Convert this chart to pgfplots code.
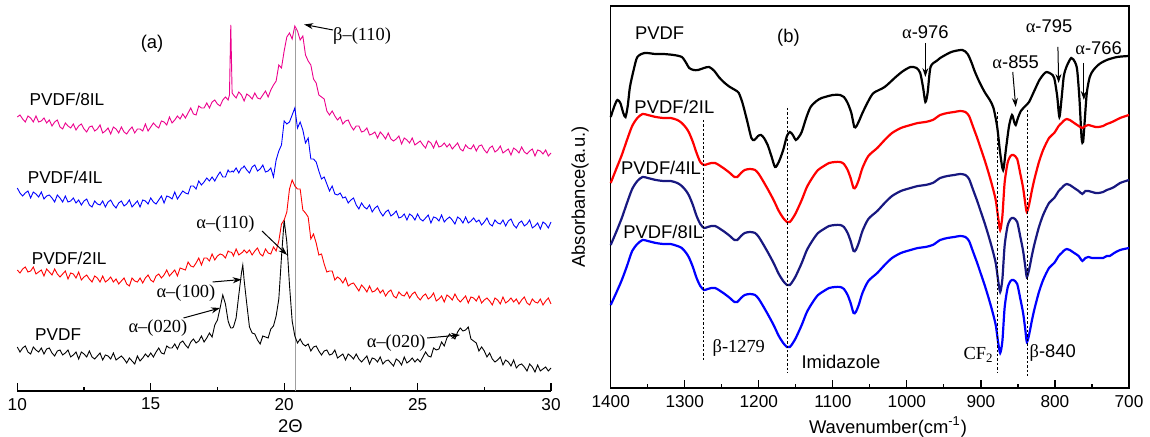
\documentclass[border=0pt]{standalone}
\usepackage{fontspec}
\setmainfont{Liberation Sans}
\newfontfamily\tms{Liberation Serif}
\usepackage{pgfplots}
\usepackage{pgfplotstable}
\pgfplotsset{compat=1.18}
\usetikzlibrary{arrows.meta}

\definecolor{navyb}{RGB}{24,24,128}
\newcommand\fl{\fontsize{8.6}{10}\selectfont}
\newcommand\fn{\fontsize{9.2}{11}\selectfont}

% XRD: 2theta, PVDF, /2IL, /4IL, /8IL (offset intensities, a.u.)
\pgfplotstableread{
x p r b m
10.0 44 121 203 274
10.1 39 118 198 276
10.2 43 122 195 272
10.3 45 124 198 269
10.4 39 119 200 275
10.5 37 120 193 273
10.6 44 124 199 269
10.7 41 117 197 275
10.8 39 119 194 269
10.9 43 121 199 270
11.0 37 115 192 273
11.1 42 122 195 268
11.2 43 119 196 271
11.3 38 116 193 265
11.4 35 122 189 269
11.5 40 117 196 271
11.6 41 114 193 264
11.7 36 117 189 262
11.8 38 120 195 268
11.9 41 112 189 265
12.0 34 118 190 263
12.1 36 117 193 267
12.2 39 113 188 261
12.3 32 119 191 265
12.4 39 111 186 267
12.5 37 114 190 262
12.6 34 116 192 259
12.7 40 112 186 264
12.8 34 109 184 265
12.9 32 115 190 260
13.0 35 113 187 262
13.1 38 109 186 266
13.2 31 115 190 258
13.3 36 109 184 260
13.4 35 111 189 263
13.5 32 114 191 257
13.6 38 109 186 264
13.7 31 112 183 262
13.8 33 107 188 258
13.9 35 110 190 264
14.0 32 113 185 259
14.1 28 107 187 257
14.2 33 105 191 261
14.3 30 113 184 264
14.4 27 110 187 258
14.5 35 109 190 262
14.6 30 113 184 262
14.7 33 108 191 260
14.8 37 113 190 267
14.9 34 116 187 260
15.0 38 111 193 264
15.1 34 109 189 268
15.2 39 115 187 265
15.3 43 117 191 263
15.4 38 113 195 270
15.5 37 116 188 269
15.6 45 121 195 266
15.7 43 115 194 274
15.8 43 118 192 268
15.9 47 121 199 271
16.0 42 115 192 275
16.1 48 123 196 272
16.2 50 122 200 277
16.3 46 121 198 273
16.4 43 129 197 278
16.5 49 125 205 283
16.6 52 124 205 277
16.7 48 128 202 276
16.8 50 133 210 285
16.9 55 126 206 283
17.0 49 133 209 283
17.1 53 133 213 288
17.2 58 130 210 283
17.3 54 137 214 289
17.4 66 131 210 291
17.5 71 135 215 287
17.6 83 137 219 285
17.7 96 136 214 291
17.8 87 133 214 294
17.9 70 140 221 291
17.95 66 139 219 296
18.0 63 139 219 366
18.05 63 138 220 298
18.1 64 135 219 296
18.2 73 142 223 293
18.3 96 136 218 299
18.4 118 138 223 296
18.45 126 139 223 293
18.5 111 141 225 290
18.6 87 138 221 297
18.7 64 141 218 295
18.8 58 136 224 292
18.9 57 140 226 298
19.0 51 143 220 293
19.1 47 137 222 292
19.2 55 135 226 296
19.3 54 142 219 300
19.4 53 138 220 294
19.5 62 137 223 301
19.6 65 144 214 306
19.7 75 140 231 310
19.8 92 150 240 326
19.9 134 167 246 323
20.0 171 171 270 340
20.1 149 179 267 354
20.2 106 202 269 358
20.3 70 211 276 352
20.4 55 205 283 365
20.5 48 202 263 360
20.6 52 202 269 351
20.7 47 181 261 355
20.8 45 178 248 336
20.9 47 174 253 330
21.0 40 152 232 326
21.1 44 157 232 312
21.2 45 148 229 308
21.3 40 136 220 296
21.4 36 137 212 294
21.5 40 127 214 292
21.6 41 119 207 280
21.7 36 120 200 276
21.8 37 120 205 280
21.9 41 111 197 275
22.0 33 114 196 271
22.1 35 112 198 274
22.2 37 108 193 267
22.3 31 113 194 270
22.4 37 105 188 271
22.5 35 107 191 265
22.6 32 108 193 261
22.7 37 104 186 265
22.8 32 100 182 265
22.9 29 106 188 259
23.0 32 103 184 260
23.1 35 99 182 263
23.2 27 105 186 256
23.3 33 99 179 257
23.4 32 100 183 259
23.5 29 103 185 253
23.6 34 98 179 259
23.7 27 101 175 256
23.8 30 95 179 252
23.9 31 99 181 258
24.0 28 101 175 252
24.1 25 95 177 250
24.2 32 93 180 252
24.3 30 99 173 255
24.4 26 96 174 247
24.5 34 95 177 253
24.6 28 99 171 251
24.7 30 93 177 248
24.8 33 97 175 253
24.9 29 99 171 246
25.0 32 94 177 248
25.1 29 91 172 250
25.2 34 95 170 246
25.3 39 97 173 243
25.4 35 92 176 250
25.5 34 94 168 248
25.6 43 98 174 243
25.7 41 90 173 250
25.8 42 92 170 244
25.9 49 95 176 245
26.0 45 89 169 248
26.1 53 96 172 244
26.2 57 94 174 247
26.3 54 91 171 242
26.4 52 97 167 245
26.5 59 92 174 248
26.6 63 89 172 242
26.7 60 92 168 240
26.8 61 95 174 246
26.9 64 88 168 243
27.0 52 94 170 242
27.1 50 93 173 246
27.2 48 90 169 240
27.3 40 95 171 245
27.4 44 88 166 246
27.5 40 91 169 241
27.6 34 93 173 238
27.7 38 90 167 243
27.8 32 86 165 245
27.9 29 93 171 239
28.0 31 91 168 241
28.1 34 87 167 245
28.2 26 94 171 238
28.3 31 88 165 240
28.4 29 90 170 242
28.5 25 93 172 236
28.6 31 89 166 243
28.7 23 92 163 241
28.8 26 87 168 238
28.9 27 91 170 244
29.0 24 94 165 239
29.1 20 88 167 237
29.2 27 86 171 240
29.3 24 92 163 242
29.4 19 89 165 235
29.5 26 88 168 241
29.6 20 92 162 240
29.7 22 86 169 237
29.8 24 90 167 241
29.9 20 93 163 235
30.0 23 87 169 238
}\xrd

% FTIR of neat PVDF
\pgfplotstableread{
w h
1400 271
1395 282
1391 288
1387 285
1383 275
1380 271
1377 282
1374 301
1369 318
1364 331
1354 335
1340 334
1329 334
1315 333
1304 331
1298 325
1294 320
1288 318
1282 318
1274 320
1267 321
1260 317
1254 311
1246 305
1239 301
1232 298
1227 295
1222 285
1216 268
1210 250
1206 248
1201 252
1197 253
1193 250
1188 243
1183 232
1178 221
1173 226
1167 238
1162 252
1158 256
1154 253
1150 248
1146 251
1142 256
1136 270
1130 281
1122 287
1115 290
1100 293
1090 293
1085 291
1080 285
1075 275
1071 261
1068 262
1064 268
1060 275
1052 287
1045 295
1030 301
1015 311
1005 317
995 321
987 320
982 315
978 300
975 286
972 295
968 321
960 327
955 330
940 336
925 338
918 334
913 326
908 316
902 306
895 296
888 288
883 280
878 261
874 235
870 218
866 240
862 262
858 273
855 266
853 263
850 270
846 277
840 282
835 286
828 297
821 308
815 314
811 316
805 314
801 310
797 292
794 271
791 290
788 312
784 322
778 330
773 326
770 318
767 290
764 250
762 246
760 265
757 295
753 311
748 318
740 324
730 328
716 331
700 332
}\irpvdf

% FTIR of PVDF/2IL, /4IL, /8IL
\pgfplotstableread{
w r n b
1400 205 143 83
1392 220 157 96
1385 233 170 108
1378 248 185 122
1371 262 199 137
1364 270 207 144
1357 274 211 148
1350 273 210 147
1339 271 208 145
1329 270 207 144
1319 270 207 144
1310 268 205 142
1304 265 202 140
1298 260 197 135
1294 255 192 130
1289 246 183 121
1284 235 172 110
1279 226 164 102
1274 223 160 98
1269 224 161 99
1264 225 162 100
1259 225 162 100
1254 223 160 98
1246 219 156 94
1239 215 152 90
1233 211 148 86
1229 211 148 86
1224 215 152 90
1219 218 155 93
1212 219 156 94
1205 218 155 93
1200 214 151 89
1195 208 145 83
1188 199 136 74
1180 188 125 63
1173 177 114 52
1167 170 107 45
1162 166 103 41
1158 166 103 41
1154 170 107 45
1150 175 112 50
1142 188 125 63
1135 201 138 76
1127 211 148 86
1120 218 155 93
1112 222 159 97
1105 225 162 100
1097 226 163 101
1090 226 163 101
1085 224 161 99
1080 218 155 93
1076 210 147 85
1072 200 137 75
1069 201 138 76
1065 208 145 83
1060 220 157 95
1052 232 169 107
1040 240 177 115
1030 248 185 123
1020 255 192 130
1008 260 197 135
995 263 200 138
985 265 202 140
975 266 203 141
965 268 205 143
955 273 210 148
945 275 212 150
936 276 213 151
928 277 214 152
921 276 213 151
916 272 209 147
911 262 199 137
905 250 187 125
900 239 176 114
895 228 165 103
890 216 153 91
885 203 140 78
880 188 125 63
877 172 109 47
874 158 96 35
871 172 109 47
868 205 142 80
864 225 162 100
860 232 169 107
856 233 170 108
851 229 166 104
847 215 152 90
843 200 137 75
840 184 121 58
838 176 111 46
835 183 118 53
831 198 133 68
828 208 143 78
822 225 160 95
816 238 173 108
808 250 185 120
801 255 190 125
795 262 197 132
791 265 200 135
787 268 203 138
784 269 204 139
780 268 203 138
774 265 200 135
768 262 197 132
763 260 194 127
759 262 197 130
755 263 197 131
750 262 196 130
745 261 195 130
741 261 195 130
735 262 196 130
730 264 198 132
726 265 199 132
720 267 201 135
712 270 205 138
700 273 208 140
}\irmix

\pgfplotsset{
  /pgf/number format/assume math mode=true,
  /pgf/number format/1000 sep={},
  every tick label/.append style={font=\fl},
}
\tikzset{annot/.style={-{Stealth[length=4.5pt,width=3pt]},line width=0.5pt}}

\begin{document}
\begin{tikzpicture}
\useasboundingbox (0pt,0pt) rectangle (575pt,218.5pt);

% ---------- (a) XRD ----------
\begin{axis}[at={(8.65pt,23pt)},anchor=south west,scale only axis,
  width=266.85pt,height=195.5pt,
  xmin=10,xmax=30,ymin=0,ymax=391,
  axis x line*=bottom,axis y line=none,ytick=\empty,
  xtick={10,15,20,25,30},minor xtick={12.5,17.5,22.5,27.5},
  tick align=inside,major tick length=4pt,minor tick length=2pt,
  tick style={black,line width=0.6pt},
  axis line style={line width=0.8pt},
  scaled x ticks=false,clip=false,
  every axis plot/.append style={line width=0.45pt}]
\addplot[gray!75,line width=0.6pt] coordinates {(20.43,0) (20.43,362)};
\addplot[black] table[x=x,y=p]{\xrd};
\addplot[red] table[x=x,y=r]{\xrd};
\addplot[blue] table[x=x,y=b]{\xrd};
\addplot[magenta] table[x=x,y=m]{\xrd};

\node[font=\fl] at (axis cs:11.86,292) {PVDF/8IL};
\node[font=\fl] at (axis cs:11.79,214) {PVDF/4IL};
\node[font=\fl] at (axis cs:11.94,133) {PVDF/2IL};
\node[font=\fl] at (axis cs:11.53,56) {PVDF};
\node[font=\fn] at (axis cs:15.05,347) {(a)};

\node[font=\fn\tms] at (axis cs:22.92,355) {β–(110)};
\draw[annot] (axis cs:21.83,361) -- (axis cs:20.75,366.5);
\node[font=\fn\tms] at (axis cs:17.8,167) {α–(110)};
\draw[annot] (axis cs:19.17,160) -- (axis cs:20.11,136);
\node[font=\fn\tms] at (axis cs:16.32,98) {α–(100)};
\draw[annot] (axis cs:17.32,109) -- (axis cs:18.41,111.5);
\node[font=\fn\tms] at (axis cs:15.27,63) {α–(020)};
\draw[annot] (axis cs:16.23,73) -- (axis cs:17.6,83);
\node[font=\fn\tms] at (axis cs:24.2,48) {α–(020)};
\draw[annot] (axis cs:25.36,53) -- (axis cs:26.59,56);
\end{axis}
\node[font=\fn] at (145.25pt,5.5pt) {2Θ};

% ---------- (b) FTIR ----------
\begin{axis}[at={(305.35pt,24.5pt)},anchor=south west,scale only axis,
  width=259.15pt,height=191pt,
  xmin=700,xmax=1400,x dir=reverse,ymin=0,ymax=382,
  xtick={700,800,...,1400},minor xtick={750,850,...,1350},
  xtick pos=left,ytick=\empty,
  tick align=inside,major tick length=4pt,minor tick length=2pt,
  tick style={black,line width=0.6pt},
  axis line style={line width=0.75pt},
  scaled x ticks=false,clip=false,
  every axis plot/.append style={line width=1.1pt,smooth,tension=0.45}]
\addplot[black] table[x=w,y=h]{\irpvdf};
\addplot[red] table[x=w,y=r]{\irmix};
\addplot[navyb] table[x=w,y=n]{\irmix};
\addplot[blue] table[x=w,y=b]{\irmix};

\addplot[black,line width=0.5pt,dash pattern=on 1.2pt off 1pt,sharp plot] coordinates {(1275,268) (1275,28)};
\addplot[black,line width=0.5pt,dash pattern=on 1.2pt off 1pt,sharp plot] coordinates {(1161,280) (1161,15)};
\addplot[black,line width=0.5pt,dash pattern=on 1.2pt off 1pt,sharp plot] coordinates {(877,276) (877,15)};
\addplot[black,line width=0.5pt,dash pattern=on 1.2pt off 1pt,sharp plot] coordinates {(837,278) (837,11)};

\node[font=\fn] at (axis cs:1334,355) {PVDF};
\node[font=\fn] at (axis cs:1160,350) {(b)};
\node[font=\fn] at (axis cs:1314,281) {PVDF/2IL};
\node[font=\fn] at (axis cs:1332,220) {PVDF/4IL};
\node[font=\fn] at (axis cs:1329,156) {PVDF/8IL};

\node[font=\fn] at (axis cs:975,356) {{\tms α}-976};
\draw[annot] (axis cs:975,345) -- (axis cs:975,311);
\node[font=\fn] at (axis cs:853,326) {{\tms α}-855};
\draw[annot] (axis cs:857,316) -- (axis cs:853,281);
\node[font=\fn] at (axis cs:808,362) {{\tms α}-795};
\draw[annot] (axis cs:796,341) -- (axis cs:795,305);
\node[font=\fn] at (axis cs:741,340) {{\tms α}-766};
\draw[annot] (axis cs:761,325) -- (axis cs:761,288);

\node[font=\fn\tms] at (axis cs:1227,40) {β-1279};
\node[font=\fn] at (axis cs:1089,26) {Imidazole};
\node[font=\fn\tms] at (axis cs:903,33) {CF\textsubscript{2}};
\node[font=\fn] at (axis cs:803,35) {{\tms β}-840};
\end{axis}
\node[font=\fn,rotate=90] at (290pt,120pt) {Absorbance(a.u.)};
\node[font=\fn] at (444pt,5pt) {Wavenumber(cm\textsuperscript{-1})};
\end{tikzpicture}
\end{document}
